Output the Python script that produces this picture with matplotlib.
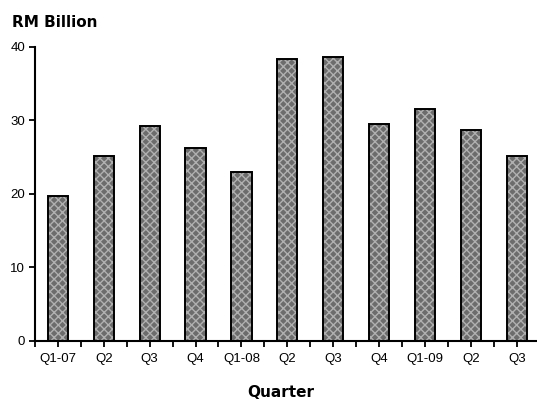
import matplotlib
matplotlib.use("Agg")
import matplotlib.pyplot as plt
import numpy as np

plt.rcParams['font.family'] = ['Liberation Sans', 'DejaVu Sans']

# Quarterly values, RM billion
quarters = ["Q1-07", "Q2", "Q3", "Q4", "Q1-08", "Q2", "Q3", "Q4", "Q1-09", "Q2", "Q3"]
values = [19.7, 25.2, 29.3, 26.3, 23.0, 38.3, 38.6, 29.5, 31.5, 28.7, 25.2]
y_ticks = [0, 10, 20, 30, 40]

fig = plt.figure(figsize=(5.37, 4.01), dpi=100)
ax = fig.add_axes([0.065, 0.150, 0.94, 0.733])

x = np.arange(len(quarters))
# grey fill with dotted texture, then black outline on top
ax.bar(x, values, width=0.44, color='#6c6c6c', edgecolor='#b0b0b0',
       hatch='xxxx', linewidth=0, zorder=2)
ax.bar(x, values, width=0.44, facecolor='none', edgecolor='black',
       linewidth=1.4, zorder=3)

ax.set_xlim(-0.5, len(quarters) - 0.5)
ax.set_ylim(0, 40)
ax.set_yticks(y_ticks)
ax.set_xticks(x)
ax.set_xticklabels(quarters)
ax.set_xticks(np.arange(-0.5, len(quarters)), minor=True)

for s in ['top', 'right']:
    ax.spines[s].set_visible(False)
for s in ['left', 'bottom']:
    ax.spines[s].set_linewidth(1.5)

ax.tick_params(axis='both', which='both', direction='out', length=4, width=1.3,
               labelsize=9.5)
ax.tick_params(axis='x', which='major', pad=5)
ax.tick_params(axis='y', pad=3)

fig.text(0.022, 0.933, "RM Billion", fontsize=11, fontweight='bold',
         family='DejaVu Sans', ha='left', va='baseline')
fig.text(0.522, 0.01, "Quarter", fontsize=11, fontweight='bold',
         family='DejaVu Sans', ha='center', va='baseline')

fig.savefig("out.png", dpi=100)
